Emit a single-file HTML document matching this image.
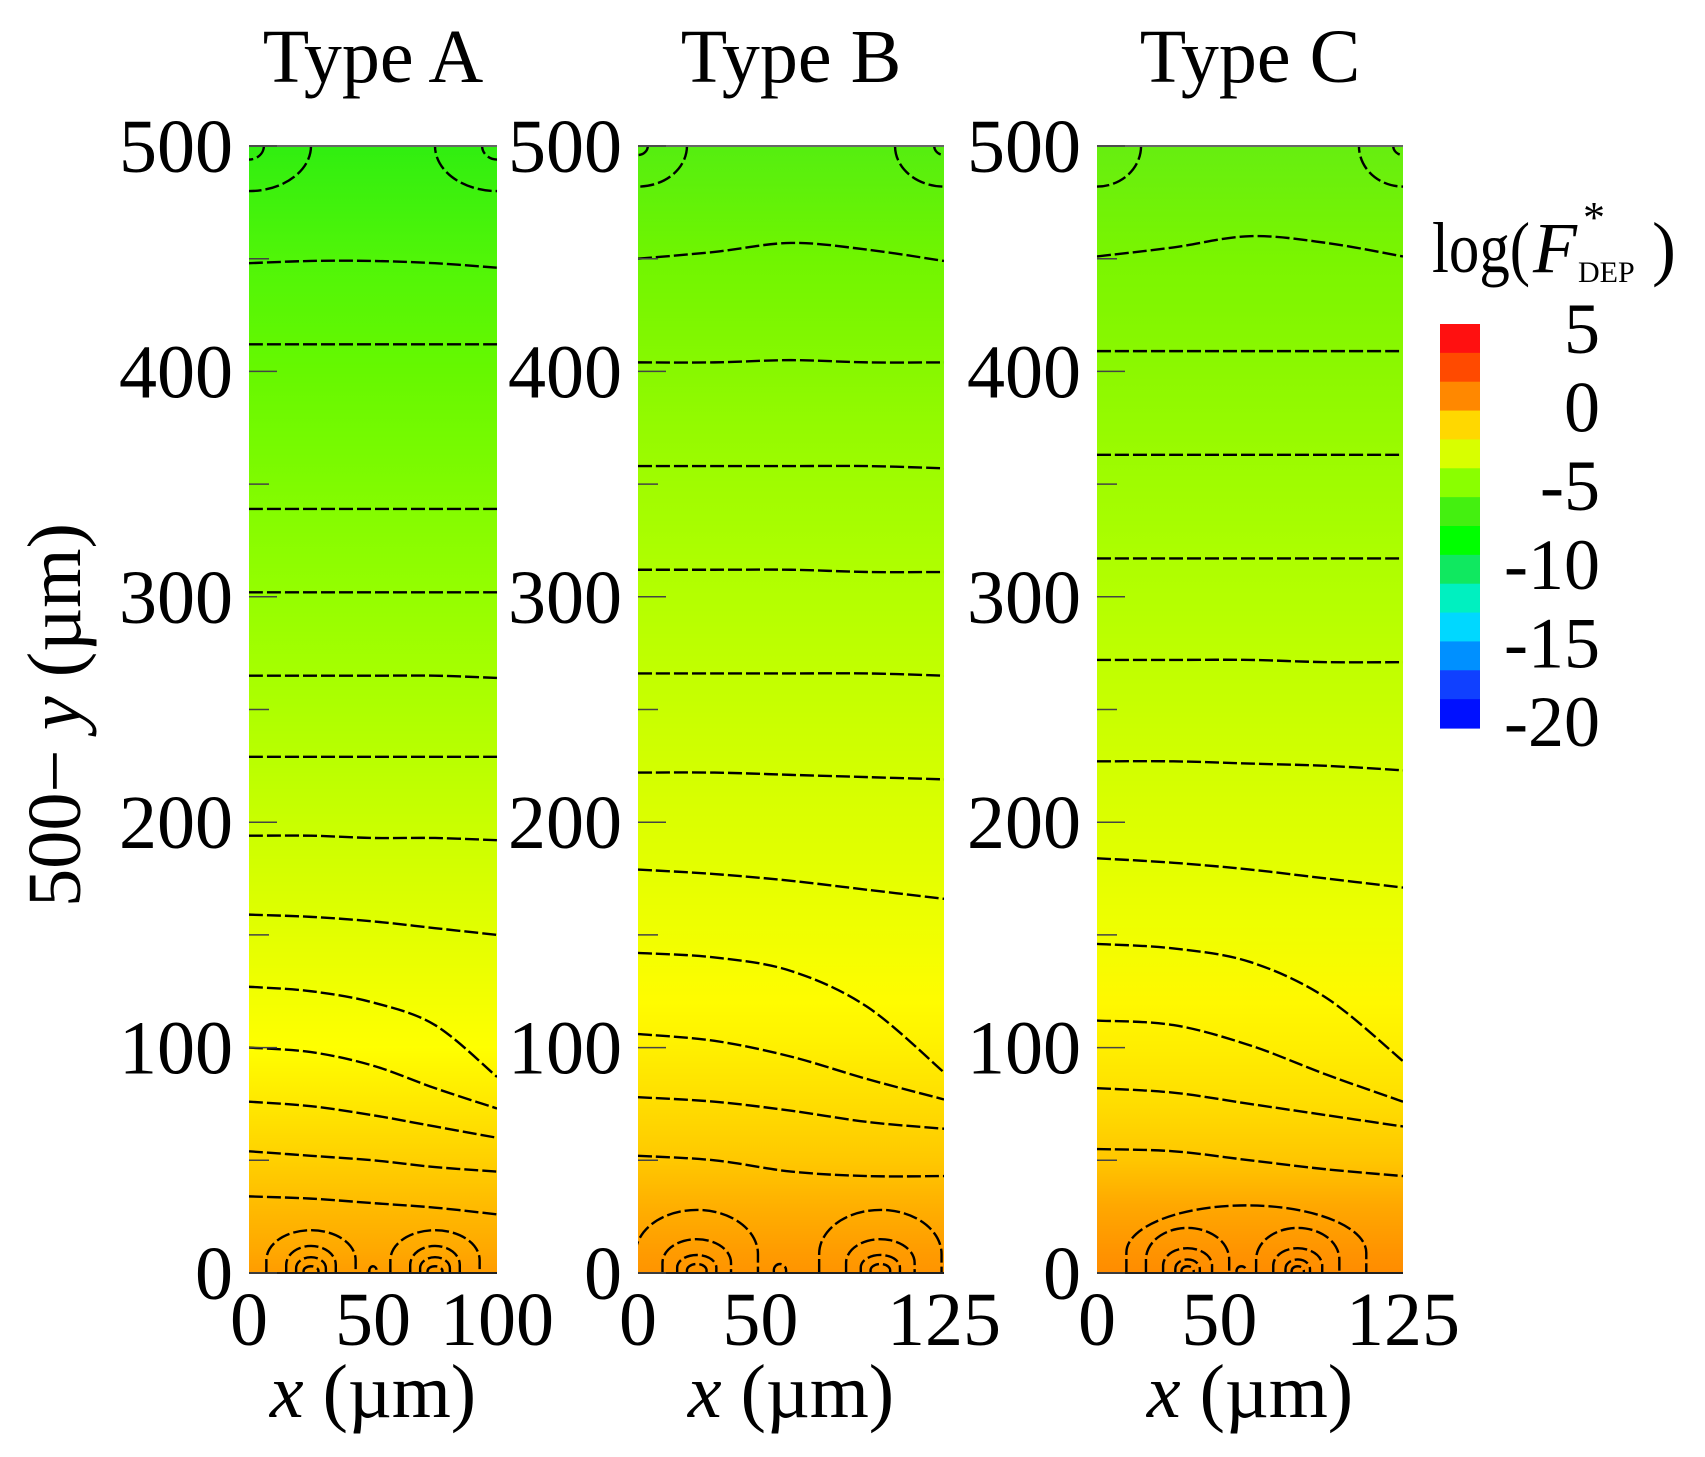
<!DOCTYPE html>
<html><head><meta charset="utf-8"><style>
html,body{margin:0;padding:0;background:#fff;}
svg{display:block;font-family:"Liberation Serif",serif;}
</style></head><body>
<svg id="chart" width="1705" height="1457" viewBox="0 0 1705 1457" xmlns="http://www.w3.org/2000/svg">
<defs id="defs"></defs>
<g id="root"></g>
<text transform="translate(80,715) rotate(-90)" text-anchor="middle" font-size="76" textLength="384" lengthAdjust="spacingAndGlyphs">500− <tspan font-style="italic">y</tspan> (µm)</text>
<g id="cbar"></g>
<g>
<text x="1432" y="272" font-size="72" textLength="98" lengthAdjust="spacingAndGlyphs">log(</text>
<text x="1533" y="272" font-size="72" font-style="italic">F</text>
<text x="1583" y="232" font-size="44">*</text>
<text x="1578" y="282" font-size="30">DEP</text>
<text x="1652" y="272" font-size="72">)</text>
</g>
</svg>
<script>
// ---- data ----
const panelTitles = ["Type A", "Type B", "Type C"];
const panelXMax = [100, 125, 125];
const xTicks = [[0, 50, 100], [0, 50, 125], [0, 50, 125]];
const yTicks = [0, 100, 200, 300, 400, 500];
const yMinorTicks = [50, 150, 250, 350, 450];
// contour levels: y (µm) sampled at x fractions 0, .25, .5, .75, 1
const contoursA = [[448,449,449,448,446],[412,412,412,412,412],[339,339,339,339,339],[302,302,302,302,302],[265,265,265,265,264],[229,229,229,229,229],[194,194,193,193,192],[159,158,156,153,150],[127,125,120,110,87],[100,98,92,82,73],[76,74,70,65,60],[54,52,50,47,45],[34,33,31,29,26]];
const contoursB = [[450,453,457,454,449],[404,404,405,404,404],[358,358,358,358,357],[312,312,312,311,311],[266,266,266,266,265],[222,222,221,220,219],[179,177,174,170,166],[142,140,134,118,89],[106,103,96,86,77],[78,76,72,67,64],[52,50,45,43,43]];
const contoursC = [[451,455,460,457,451],[409,409,409,409,409],[363,363,363,363,363],[317,317,317,317,317],[272,272,272,271,271],[227,227,226,225,223],[184,182,179,175,171],[146,144,138,122,94],[112,110,101,88,76],[82,80,75,70,65],[55,54,50,46,43]];
// bottom electrode loops: [centerX µm, rx µm, ry µm]
const loopsA = [[25,18,19],[25,10,12],[25,6,7],[25,3,3],[75,18,19],[75,10,12],[75,6,7],[75,3,3],[50,1.5,3]];
const loopsB = [[24,25,28],[24,14,15],[24,8,8],[24,4,4],[99,25,28],[99,14,15],[99,8,8],[99,4,4],[58,2.5,4]];
const loopsC = [[37,17,20],[37,10,11],[37,5,6],[37,2.5,3],[82,17,20],[82,10,11],[82,5,6],[82,2.5,3],[59,2,3],[61,49,30]];
// top corner loops: [cornerX fraction, rx µm, ry µm]
const topLoopsA = [[0,25,20],[0,6,6],[1,25,20],[1,6,6]];
const topLoopsB = [[0,20,18],[0,4,4],[1,20,18],[1,4,4]];
const topLoopsC = [[0,18,18],[1,18,18],[1,4,4]];
const fieldLevels = [500,450,400,350,300,265,230,194,155,120,100,75,50,30,10,0];
const fieldA = ["#30ee10","#50f508","#66f800","#7ffb00","#95fe00","#a6ff00","#b8ff00","#ccff00","#e0ff00","#f4ff00","#ffff00","#ffe800","#ffd000","#ffbb00","#ffa800","#ff9c00"];
const fieldB = ["#55ee10","#70f500","#88f800","#a0fc00","#b4ff00","#c2ff00","#d0ff00","#deff00","#eeff00","#fffc00","#fff000","#ffdd00","#ffc800","#ffb000","#ff9c00","#ff9400"];
const fieldC = ["#66ee10","#7af500","#8cf800","#a0fc00","#b4ff00","#c2ff00","#d0ff00","#deff00","#eeff00","#fff800","#ffee00","#ffdd00","#ffc600","#ffa800","#ff9400","#ff8c00"];
const cbarColors = ["#ff1010","#ff4a00","#ff8800","#ffd800","#d8ff00","#8aff00","#44f010","#00ff00","#10e860","#00f0c0","#00d8ff","#0090ff","#1040ff","#0010ff"];
const cbarTickLabels = ["5","0","-5","-10","-15","-20"];
const cbarTickValues = [5,0,-5,-10,-15,-20];

// ---- layout ----
const NS = "http://www.w3.org/2000/svg";
const panelLeft = [249, 638, 1097], panelRight = [497, 944, 1403];
const plotTop = 146, plotBottom = 1273;
const yScale = v => plotBottom - (v / 500) * (plotBottom - plotTop);
const contours = [contoursA, contoursB, contoursC];
const loops = [loopsA, loopsB, loopsC];
const topLoops = [topLoopsA, topLoopsB, topLoopsC];
const fields = [fieldA, fieldB, fieldC];
const root = document.getElementById("root");
const defs = document.getElementById("defs");
function mk(tag, attrs, parent) { const e = document.createElementNS(NS, tag); for (const k in attrs) e.setAttribute(k, attrs[k]); parent.appendChild(e); return e; }
function smooth(pts) {
  let d = "M" + pts[0][0] + "," + pts[0][1];
  for (let i = 0; i < pts.length - 1; i++) {
    const p0 = pts[Math.max(0, i - 1)], p1 = pts[i], p2 = pts[i + 1], p3 = pts[Math.min(pts.length - 1, i + 2)];
    const c1 = [p1[0] + (p2[0] - p0[0]) / 6, p1[1] + (p2[1] - p0[1]) / 6];
    const c2 = [p2[0] - (p3[0] - p1[0]) / 6, p2[1] - (p3[1] - p1[1]) / 6];
    d += " C" + c1 + " " + c2 + " " + p2;
  }
  return d;
}
for (let p = 0; p < 3; p++) {
  const L = panelLeft[p], R = panelRight[p], W = R - L;
  const H = plotBottom - plotTop;
  const xScale = v => L + (v / panelXMax[p]) * W;
  const g = mk("g", {}, root);
  
  
  const grad = mk("linearGradient", { id: "fg" + p, x1: 0, y1: 0, x2: 0, y2: 1 }, defs);
  fieldLevels.forEach((lv, i) => mk("stop", { offset: ((500 - lv) / 500).toFixed(3), "stop-color": fields[p][i] }, grad));
  const clip = mk("clipPath", { id: "clip" + p }, defs);
  mk("rect", { x: L, y: plotTop, width: W, height: H }, clip);
  const bg = mk("rect", { x: L, y: plotTop, width: W, height: H, fill: "url(#fg" + p + ")" }, g);
  
  
  const cg = mk("g", { "clip-path": "url(#clip" + p + ")", fill: "none", stroke: "#000", "stroke-width": 2.4, "stroke-dasharray": "14 4" }, g);
  contours[p].forEach(c => {
    const pts = c.map((v, i) => [L + (i / (c.length - 1)) * W, yScale(v)]);
    const path = mk("path", { d: smooth(pts) }, cg);
    
    
  });
  loops[p].forEach(l => {
    const cx = xScale(l[0]), rx = l[1] / panelXMax[p] * W, ry = l[2] / 500 * H;
    const e = mk("path", { d: "M" + (cx - rx) + "," + plotBottom + " L" + (cx - rx) + "," + (plotBottom - ry * 0.3) + " A" + rx + "," + ry * 0.7 + " 0 0 1 " + (cx + rx) + "," + (plotBottom - ry * 0.3) + " L" + (cx + rx) + "," + plotBottom }, cg);
    
    
  });
  topLoops[p].forEach(l => {
    const cx = L + l[0] * W, rx = l[1] / panelXMax[p] * W, ry = l[2] / 500 * H;
    const e = mk("ellipse", { cx: cx, cy: plotTop, rx: rx, ry: ry }, cg);
    
    
  });
  mk("line", { x1: L, y1: plotTop, x2: R, y2: plotTop, stroke: "#666", "stroke-width": 2 }, g);
  mk("line", { x1: L, y1: plotBottom, x2: R, y2: plotBottom, stroke: "#222", "stroke-width": 2 }, g);
  yTicks.forEach(v => {
    mk("line", { x1: L, y1: yScale(v), x2: L + 28, y2: yScale(v), stroke: "#444", "stroke-width": 1.5 }, g);
    const t = mk("text", { x: L - 16, y: yScale(v) + 26, "text-anchor": "end", "font-size": 76 }, g);
    t.textContent = v;
    
    
  });
  yMinorTicks.forEach(v => mk("line", { x1: L, y1: yScale(v), x2: L + 20, y2: yScale(v), stroke: "#444", "stroke-width": 1.5 }, g));
  xTicks[p].forEach(v => {
    const t = mk("text", { x: xScale(v), y: 1345, "text-anchor": "middle", "font-size": 76 }, g);
    t.textContent = v;
    
    
  });
  const ti = mk("text", { x: (L + R) / 2, y: 82, "text-anchor": "middle", "font-size": 76 }, g);
  ti.textContent = panelTitles[p];
  
  
  const xt = mk("text", { x: (L + R) / 2, y: 1417, "text-anchor": "middle", "font-size": 76 }, g);
  const xi = mk("tspan", { "font-style": "italic" }, xt);
  xi.textContent = "x";
  const xu = mk("tspan", {}, xt);
  xu.textContent = " (µm)";
  
  
}
// colorbar
const cb = document.getElementById("cbar");
const cbTop = 324, cbBot = 728, cbX = 1440, cbW = 40;
const bandH = (cbBot - cbTop) / cbarColors.length;
cbarColors.forEach((c, i) => {
  const r = mk("rect", { x: cbX, y: cbTop + i * bandH, width: cbW, height: bandH + 0.6, fill: c }, cb);
  
  
});
const cbScale = v => 327 + (5 - v) / 25 * (720 - 327);
cbarTickValues.forEach((v, i) => {
  const t = mk("text", { x: 1600, y: cbScale(v) + 26, "text-anchor": "end", "font-size": 72 }, cb);
  t.textContent = cbarTickLabels[i];
  
  
});
</script>
</body></html>
